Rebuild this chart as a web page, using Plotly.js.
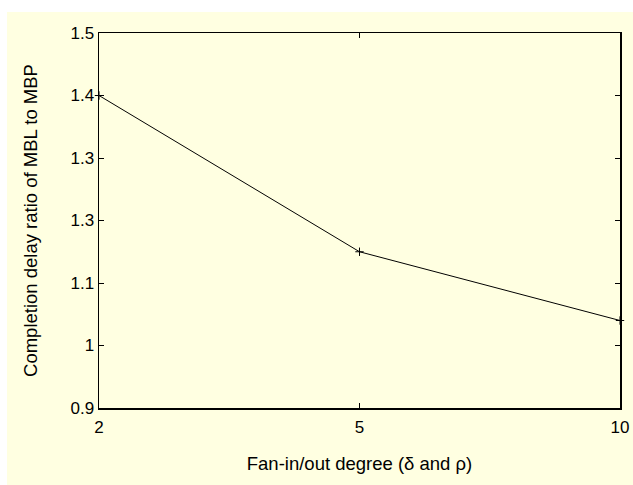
<!DOCTYPE html>
<html>
<head>
<meta charset="utf-8">
<script src="https://cdn.plot.ly/plotly-3.0.1.min.js"></script>
<style>
html,body{margin:0;padding:0;background:#ffffff;}
#chart{position:absolute;left:7px;top:12px;width:626px;height:473px;}
</style>
</head>
<body>
<div id="chart"></div>
<script>
const categories = ['2', '5', '10'];
const ratioValues = [1.40, 1.15, 1.04];
const yTickVals = [0.9, 1.0, 1.1, 1.2, 1.3, 1.4, 1.5];
const yTickText = ['0.9', '1', '1.1', '1.3', '1.3', '1.4', '1.5'];

const trace = {
  x: categories,
  y: ratioValues,
  type: 'scatter',
  mode: 'lines+markers',
  line: {color: '#000000', width: 1},
  marker: {symbol: 'cross-thin', size: 6, line: {color: '#000000', width: 1}},
  cliponaxis: false,
  hoverinfo: 'skip'
};

const tickFont = {family: 'Liberation Sans, Arial, sans-serif', size: 17, color: '#000000'};
const titleFont = {family: 'Liberation Sans, Arial, sans-serif', size: 18.5, color: '#000000'};

const layout = {
  width: 626,
  height: 473,
  paper_bgcolor: '#ffffe1',
  plot_bgcolor: '#ffffe1',
  margin: {l: 92, r: 13, t: 21, b: 77},
  showlegend: false,
  font: tickFont,
  xaxis: {
    type: 'category',
    range: [0, 2],
    showline: true, linecolor: '#000000', linewidth: 1.5, mirror: 'ticks',
    ticks: 'inside', ticklen: 5, tickcolor: '#000000', tickwidth: 1,
    ticklabelstandoff: 3,
    showgrid: false, zeroline: false,
    tickfont: tickFont,
    title: {text: 'Fan-in/out degree (δ and ρ)', font: titleFont, standoff: 21}
  },
  yaxis: {
    range: [0.9, 1.5],
    tickmode: 'array', tickvals: yTickVals, ticktext: yTickText,
    showline: true, linecolor: '#000000', linewidth: 1.5, mirror: 'ticks',
    ticks: 'inside', ticklen: 5, tickcolor: '#000000', tickwidth: 1,
    showgrid: false, zeroline: false,
    tickfont: tickFont,
    title: {text: 'Completion delay ratio of MBL to MBP', font: titleFont, standoff: 28}
  }
};

Plotly.newPlot('chart', [trace], layout, {displayModeBar: false, staticPlot: true});
</script>
</body>
</html>
